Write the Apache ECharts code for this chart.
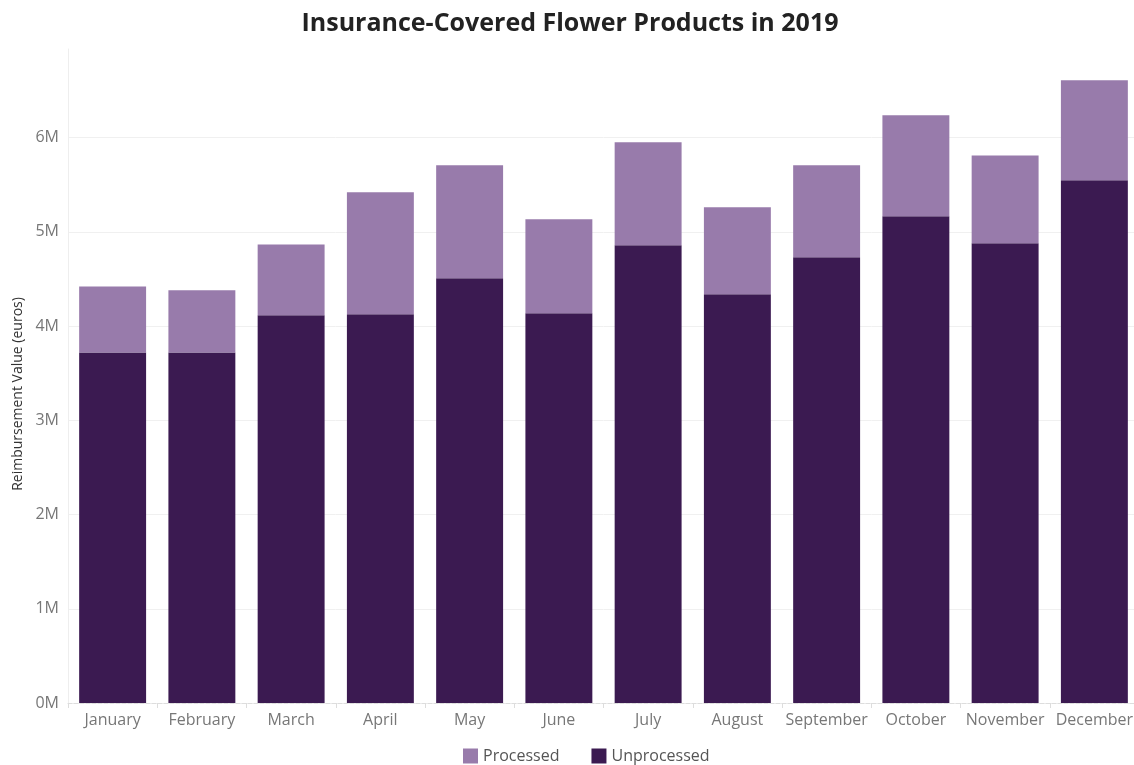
<!DOCTYPE html>
<html>
<head>
<meta charset="utf-8">
<script src="https://cdn.jsdelivr.net/npm/echarts@6/dist/echarts.min.js"></script>
<style>
html,body{margin:0;padding:0;background:#fff;overflow:hidden;}
#chart{width:1140px;height:765px;}
</style>
</head>
<body>
<div id="chart"></div>
<script>
const months = ['January','February','March','April','May','June','July','August','September','October','November','December'];
const totals = [4.42, 4.38, 4.866, 5.42, 5.706, 5.133, 5.95, 5.26, 5.706, 6.237, 5.81, 6.608];
const unprocessed = [3.72, 3.72, 4.114, 4.125, 4.507, 4.136, 4.857, 4.337, 4.73, 5.165, 4.88, 5.547];
const processed = totals.map((t, i) => +(t - unprocessed[i]).toFixed(3));
const yTicks = [0, 1, 2, 3, 4, 5, 6];

const M = 1e6;
const chart = echarts.init(document.getElementById('chart'), null, {renderer: 'canvas'});
chart.setOption({
  animation: false,
  title: {
    text: 'Insurance-Covered Flower Products in 2019',
    left: 'center',
    top: 6,
    textStyle: {fontFamily: 'Open Sans', fontWeight: 'bold', fontSize: 25, color: '#222'}
  },
  legend: {
    top: 743,
    left: 458,
    itemWidth: 15,
    itemHeight: 15,
    itemGap: 32,
    icon: 'rect',
    textStyle: {fontFamily: 'Open Sans', fontSize: 16, color: '#555'},
    data: ['Processed', 'Unprocessed']
  },
  graphic: [{
    type: 'text',
    x: 18,
    y: 394,
    rotation: Math.PI / 2,
    style: {
      text: 'Reimbursement Value (euros)',
      fontFamily: 'Open Sans', fontSize: 14, fill: '#333',
      textAlign: 'center', textVerticalAlign: 'middle'
    }
  }],
  grid: {left: 68, top: 49, width: 1071, height: 654, containLabel: false},
  xAxis: {
    type: 'category',
    data: months,
    axisLine: {show: true, lineStyle: {color: '#ddd', type: 'dashed'}},
    axisTick: {show: true, length: 5, lineStyle: {color: '#ddd'}},
    axisLabel: {interval: 0, fontFamily: 'Open Sans', fontSize: 16, color: '#777', margin: 9}
  },
  yAxis: {
    type: 'value',
    min: 0,
    max: 6.94 * M,
    interval: 1 * M,
    axisLine: {show: true, lineStyle: {color: '#eee'}},
    axisTick: {show: false},
    axisLabel: {
      fontFamily: 'Open Sans', fontSize: 16, color: '#777', margin: 9,
      formatter: v => yTicks.includes(Math.round(v / M * 1000) / 1000) ? (v / M) + 'M' : ''
    },
    splitLine: {show: true, showMaxLine: false, lineStyle: {color: '#f0f0f0', width: 1}}
  },
  series: [
    {
      name: 'Unprocessed',
      type: 'bar',
      stack: 'total',
      barCategoryGap: '25%',
      itemStyle: {color: '#3b1a51'},
      data: unprocessed.map(v => v * M)
    },
    {
      name: 'Processed',
      type: 'bar',
      stack: 'total',
      barCategoryGap: '25%',
      itemStyle: {color: '#987bab'},
      data: processed.map(v => v * M)
    }
  ]
});
</script>
</body>
</html>
